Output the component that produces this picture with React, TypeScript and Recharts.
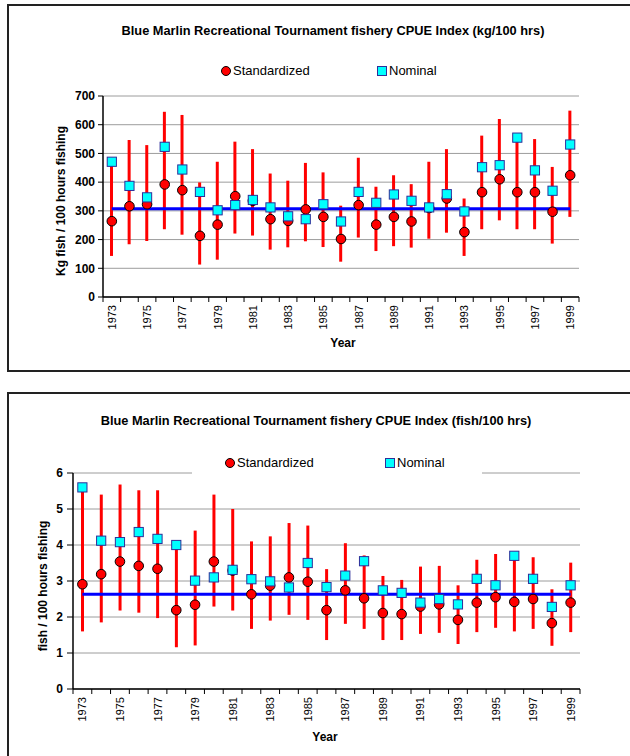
import React from 'react';
import { ComposedChart, XAxis, YAxis, CartesianGrid, Bar, Line, Legend } from 'recharts';

const years = ['1973','1974','1975','1976','1977','1978','1979','1980','1981','1982','1983','1984','1985','1986','1987','1988','1989','1990','1991','1992','1993','1994','1995','1996','1997','1998','1999'];

// Chart 1: kg / 100 hrs
const kgStandardized = [264,316,323,392,372,213,252,351,335,271,265,305,279,202,320,252,279,263,310,343,226,365,410,365,365,297,424];
const kgNominal = [471,387,347,523,444,366,302,320,338,312,281,271,323,263,366,328,357,335,312,358,298,452,459,555,441,370,531];
const kgLower = [143,184,195,236,217,113,130,221,214,165,173,194,174,123,207,160,177,172,203,224,143,236,267,236,236,186,279];
const kgUpper = [475,547,529,645,634,399,471,541,515,430,405,467,434,318,485,384,424,393,471,515,343,562,620,560,550,453,649];
const kgMean = 307;
const kgTicks = [0,100,200,300,400,500,600,700];

// Chart 2: fish / 100 hrs
const fishStandardized = [2.91,3.19,3.54,3.42,3.34,2.19,2.34,3.54,3.29,2.63,2.87,3.10,2.98,2.19,2.74,2.52,2.11,2.08,2.29,2.35,1.92,2.40,2.55,2.42,2.50,1.83,2.40];
const fishNominal = [5.60,4.12,4.08,4.36,4.17,4.00,3.01,3.10,3.31,3.05,2.99,2.82,3.50,2.83,3.15,3.55,2.74,2.67,2.40,2.50,2.35,3.06,2.88,3.70,3.06,2.28,2.88];
const fishLower = [1.60,1.85,2.18,2.12,1.97,1.16,1.21,2.29,2.18,1.67,1.90,2.06,1.92,1.36,1.81,1.67,1.36,1.36,1.53,1.56,1.25,1.58,1.70,1.60,1.67,1.20,1.58];
const fishUpper = [5.50,5.40,5.68,5.52,5.52,4.00,4.40,5.40,5.00,4.10,4.24,4.61,4.54,3.33,4.05,3.71,3.14,3.03,3.40,3.42,2.88,3.59,3.75,3.65,3.66,2.77,3.51];
const fishMean = 2.63;
const fishTicks = [0,1,2,3,4,5,6];

const seriesNames = ['Standardized', 'Nominal'];

const FONT = '"Liberation Sans", Arial, Helvetica, sans-serif';
const RED = '#ff0000';
const CYAN = '#00ffff';
const BLUE = '#0000ff';

function buildRows(std: number[], nom: number[], lo: number[], hi: number[], mean: number) {
  return years.map((y, i) => ({ year: y, std: std[i], nom: nom[i], ci: [lo[i], hi[i]], mean }));
}

const CircleDot = (props: any) => {
  const { cx, cy, index } = props;
  if (cx == null || cy == null) return <g key={`c${index}`} />;
  return <circle key={`c${index}`} cx={cx} cy={cy} r={4.8} fill={RED} stroke="#000" strokeWidth={1} />;
};

const SquareDot = (props: any) => {
  const { cx, cy, index } = props;
  if (cx == null || cy == null) return <g key={`s${index}`} />;
  return <rect key={`s${index}`} x={cx - 4.6} y={cy - 4.6} width={9.2} height={9.2} fill={CYAN} stroke="#2e2e99" strokeWidth={1} />;
};

type Cfg = {
  top: number; height: number;
  plotTop: number; plotBottom: number; plotLeft: number; plotRight: number;
  domain: [number, number]; ticks: number[];
  rows: any[];
  title: string; titleX: number; titleY: number;
  yLabel: string; yLabelX: number; yLabelY: number;
  yearX: number; yearY: number;
  legendTop: number; legendLeft: number; legendWidth: number; circleX: number; squareX: number;
  yTickSize: number; yTickMargin: number;
};

function makeXTick(band: number) {
  return (props: any) => {
    const { x, y, payload, index } = props;
    const ty = y + 8;
    return (
      <g>
        <line x1={x - band / 2} x2={x - band / 2} y1={y} y2={y + 5} stroke="#000" strokeWidth={1} />
        {index === years.length - 1 && (
          <line x1={x + band / 2} x2={x + band / 2} y1={y} y2={y + 5} stroke="#000" strokeWidth={1} />
        )}
        {index % 2 === 0 && (
          <text x={x} y={ty} transform={`rotate(-90 ${x} ${ty})`} textAnchor="end" dominantBaseline="central"
            fontSize={11} fontFamily={FONT} fill="#000">{payload.value}</text>
        )}
      </g>
    );
  };
}

function makeLegend(cfg: Cfg) {
  return () => (
    <div style={{ position: 'relative', width: cfg.legendWidth, height: 24, background: '#fff', fontFamily: FONT, fontSize: 13, color: '#000' }}>
      <svg style={{ position: 'absolute', left: cfg.circleX - cfg.legendLeft - 5, top: 7 }} width={10} height={10}>
        <circle cx={5} cy={5} r={4.5} fill={RED} stroke="#000" strokeWidth={1} />
      </svg>
      <span style={{ position: 'absolute', left: cfg.circleX - cfg.legendLeft + 7, top: 0, lineHeight: '24px', whiteSpace: 'nowrap' }}>{seriesNames[0]}</span>
      <svg style={{ position: 'absolute', left: cfg.squareX - cfg.legendLeft - 5, top: 7 }} width={10} height={10}>
        <rect x={0.5} y={0.5} width={9} height={9} fill={CYAN} stroke="#2e2e99" strokeWidth={1} />
      </svg>
      <span style={{ position: 'absolute', left: cfg.squareX - cfg.legendLeft + 7, top: 0, lineHeight: '24px', whiteSpace: 'nowrap' }}>{seriesNames[1]}</span>
    </div>
  );
}

function Panel({ cfg }: { cfg: Cfg }) {
  const band = (cfg.plotRight - cfg.plotLeft) / years.length;
  const textBold: React.CSSProperties = { position: 'absolute', fontFamily: FONT, fontWeight: 'bold', fontSize: 12, lineHeight: '14px', whiteSpace: 'nowrap', color: '#000' };
  return (
    <div style={{ position: 'absolute', left: 0, top: cfg.top, width: 630, height: cfg.height }}>
      <ComposedChart width={630} height={cfg.height} data={cfg.rows}
        margin={{ top: cfg.plotTop, right: 630 - cfg.plotRight, bottom: 0, left: 0 }}>
        <CartesianGrid vertical={false} stroke="#9c9c9c" strokeWidth={1} />
        <XAxis dataKey="year" interval={0} tickLine={false} tickSize={0} tickMargin={0}
          axisLine={{ stroke: '#000', strokeWidth: 1.5 }} height={cfg.height - cfg.plotBottom} tick={makeXTick(band)} />
        <YAxis domain={cfg.domain} ticks={cfg.ticks} interval={0} width={cfg.plotLeft}
          tickSize={cfg.yTickSize} tickMargin={cfg.yTickMargin}
          axisLine={{ stroke: '#000', strokeWidth: 1.5 }} tickLine={{ stroke: '#000' }}
          tick={{ fill: '#000', fontSize: 12, fontWeight: 'bold', fontFamily: FONT }} />
        <YAxis yAxisId="frame" orientation="right" width={0} domain={cfg.domain} tick={false} tickLine={false}
          axisLine={{ stroke: '#808080', strokeWidth: 1 }} />
        <Legend layout="horizontal" verticalAlign="middle" align="center" content={makeLegend(cfg)}
          wrapperStyle={{ position: 'absolute', left: cfg.legendLeft, top: cfg.legendTop - cfg.top, width: cfg.legendWidth, height: 24 }} />
        <Bar dataKey="ci" barSize={3} fill={RED} isAnimationActive={false} legendType="none" />
        <Line dataKey="mean" stroke={BLUE} strokeWidth={3} dot={false} activeDot={false} isAnimationActive={false} legendType="none" />
        <Line dataKey="std" name={seriesNames[0]} stroke="none" dot={CircleDot} activeDot={false} isAnimationActive={false} />
        <Line dataKey="nom" name={seriesNames[1]} stroke="none" dot={SquareDot} activeDot={false} isAnimationActive={false} />
      </ComposedChart>
      <div style={{ ...textBold, fontSize: 12.8, left: cfg.titleX, top: cfg.titleY - cfg.top - 7, transform: 'translateX(-50%)' }}>{cfg.title}</div>
      <div style={{ ...textBold, left: cfg.yLabelX, top: cfg.yLabelY - cfg.top, transform: 'translate(-50%, -50%) rotate(-90deg)' }}>{cfg.yLabel}</div>
      <div style={{ ...textBold, left: cfg.yearX, top: cfg.yearY - cfg.top, transform: 'translate(-50%, -50%)' }}>Year</div>
    </div>
  );
}

const cfg1: Cfg = {
  top: 0, height: 380,
  plotTop: 96, plotBottom: 297, plotLeft: 103, plotRight: 579,
  domain: [0, 700], ticks: kgTicks,
  rows: buildRows(kgStandardized, kgNominal, kgLower, kgUpper, kgMean),
  title: 'Blue Marlin Recreational Tournament fishery CPUE Index (kg/100 hrs)', titleX: 333, titleY: 31,
  yLabel: 'Kg fish / 100 hours fishing', yLabelX: 61, yLabelY: 201,
  yearX: 343, yearY: 343,
  legendTop: 59, legendLeft: 200, legendWidth: 260, circleX: 226, squareX: 382,
  yTickSize: 5, yTickMargin: 3,
};

const cfg2: Cfg = {
  top: 390, height: 366,
  plotTop: 83, plotBottom: 299, plotLeft: 73, plotRight: 580,
  domain: [0, 6], ticks: fishTicks,
  rows: buildRows(fishStandardized, fishNominal, fishLower, fishUpper, fishMean),
  title: 'Blue Marlin Recreational Tournament fishery CPUE Index (fish/100 hrs)', titleX: 316, titleY: 421,
  yLabel: 'fish / 100 hours fishing', yLabelX: 43, yLabelY: 586,
  yearX: 325, yearY: 737,
  legendTop: 451, legendLeft: 192, legendWidth: 290, circleX: 230, squareX: 390,
  yTickSize: 6, yTickMargin: 4,
};

export default function App() {
  return (
    <div style={{ position: 'absolute', left: 0, top: 0, width: 630, height: 756, overflow: 'hidden', background: '#fff' }}>
      <div style={{ position: 'absolute', left: 7, top: 4, width: 640, height: 364, border: '2px solid #222', borderRight: 'none' }} />
      <div style={{ position: 'absolute', left: 7, top: 392, width: 640, height: 400, borderTop: '2px solid #222', borderLeft: '2px solid #222' }} />
      <Panel cfg={cfg1} />
      <Panel cfg={cfg2} />
    </div>
  );
}
